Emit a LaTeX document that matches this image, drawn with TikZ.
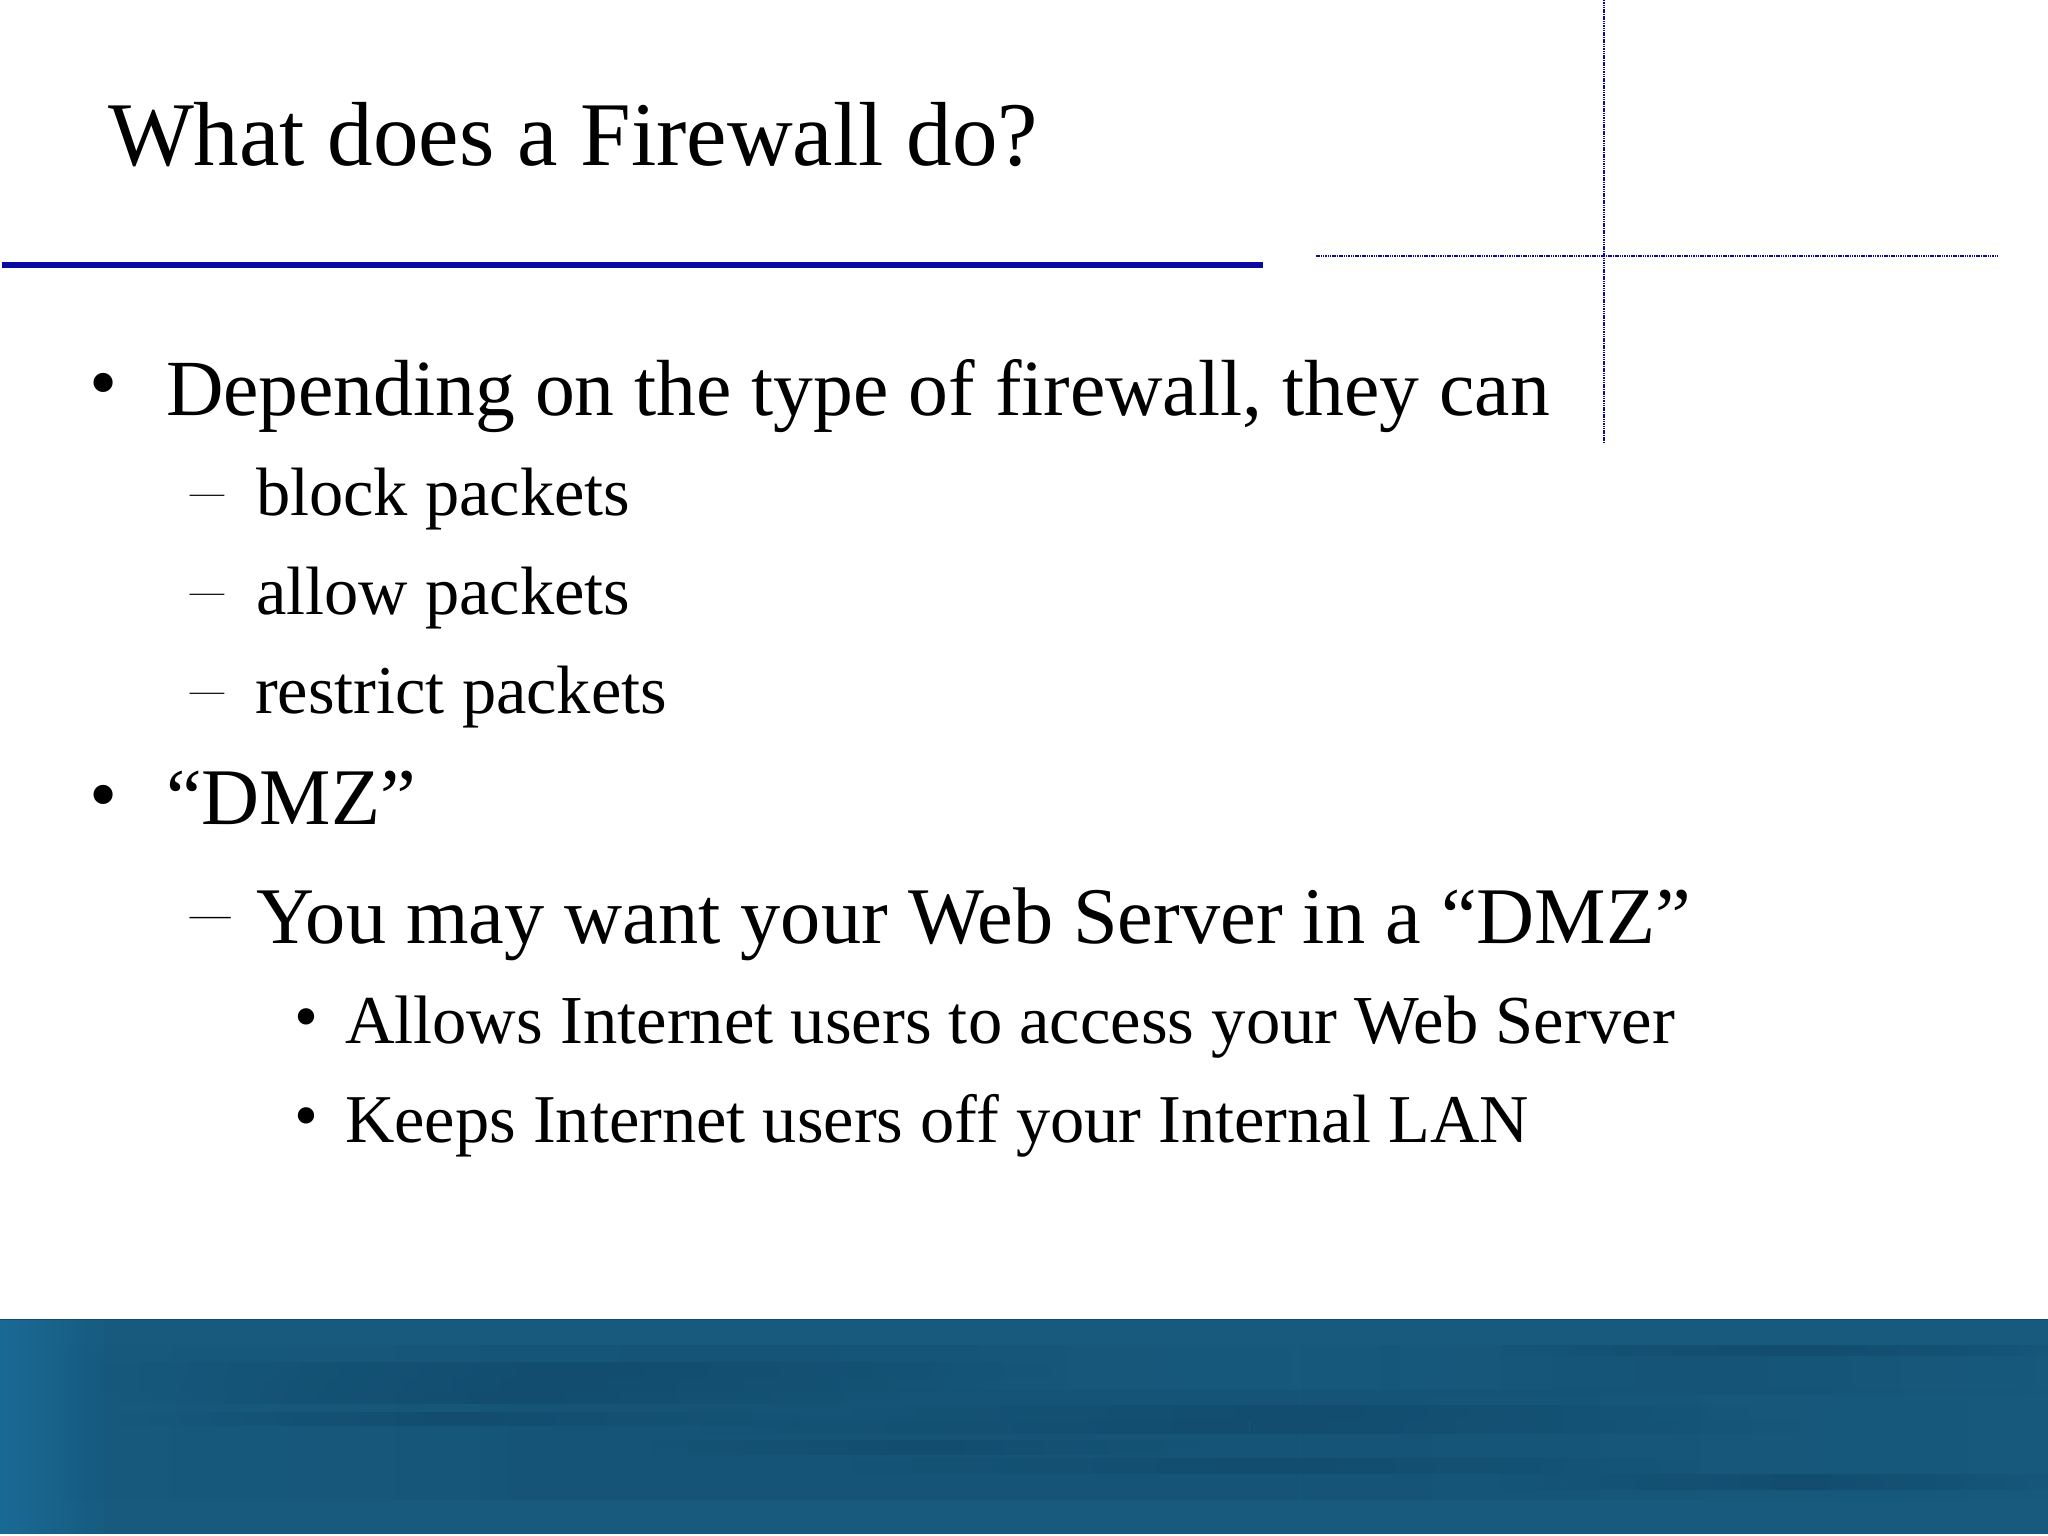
\documentclass[tikz,border=0pt]{standalone}
\usepackage{fontspec}
\setmainfont{Liberation Serif}
\usetikzlibrary{fadings}
\definecolor{rulec}{HTML}{0A0AA0}
\definecolor{bandc}{HTML}{175A7E}
\definecolor{bandd}{HTML}{124D6F}
\definecolor{bandm}{HTML}{155476}
\definecolor{bandl}{HTML}{1A6A96}
\newcommand{\wisp}[5]{%
  \pgfmathsetmacro{\wmid}{(#1+#2)/2}
  \fill[#5,path fading=west] (#1,#3) rectangle (\wmid,#4);
  \fill[#5,path fading=east] (\wmid,#3) rectangle (#2,#4);
}
\tikzset{
  x=1pt,y=-1pt,
  txt/.style={anchor=base west,inner sep=0pt,outer sep=0pt,text=black},
  title/.style={txt,font=\fontsize{91}{91}\selectfont},
  lvla/.style={txt,font=\fontsize{80.3}{80.3}\selectfont},
  lvlb/.style={txt,font=\fontsize{68.4}{68.4}\selectfont},
  dasha/.style={txt,font=\fontfamily{lmr}\fontsize{88}{88}\selectfont},
  dashb/.style={txt,font=\fontfamily{lmr}\fontsize{74}{74}\selectfont},
  heavy/.style={draw=rulec,line width=6pt},
  thinrule/.style={draw=rulec,line width=2pt,dash pattern=on 1.5pt off .8pt}
}
\begin{document}
\begin{tikzpicture}
\useasboundingbox (0,0) rectangle (2048,1536);
\fill[white] (0,0) rectangle (2048,1536);
% band
\fill[bandc] (0,1319) rectangle (2048,1534);
\fill[bandl,path fading=east] (0,1319) rectangle (110,1534);
\wisp{60}{1400}{1345}{1500}{bandm}
\wisp{500}{2100}{1390}{1500}{bandm}
\wisp{1300}{2100}{1345}{1395}{bandm}
\wisp{100}{1050}{1362}{1378}{bandd}
\wisp{100}{1000}{1378}{1392}{bandd}
\wisp{120}{900}{1392}{1404}{bandd}
\wisp{120}{800}{1412}{1426}{bandd}
\wisp{850}{1750}{1405}{1420}{bandd}
\wisp{700}{1800}{1420}{1434}{bandd}
\wisp{650}{1200}{1440}{1455}{bandd}
\wisp{850}{1700}{1458}{1474}{bandd}
\wisp{1500}{2100}{1474}{1490}{bandd}
\wisp{1500}{2100}{1345}{1356}{bandd}
\draw[bandd,line width=1.5pt] (0,1319.5) -- (2048,1319.5);
% rules
\coordinate (hl) at (2,264.5);
\coordinate (hr) at (1263,264.5);
\draw[heavy] (hl) -- (hr);
\coordinate (tl) at (1316,256);
\coordinate (tr) at (1998,256);
\draw[thinrule] (tl) -- (tr);
\coordinate (vt) at (1604,0);
\coordinate (vb) at (1604,443);
\draw[thinrule] (vt) -- (vb);
% text
\node[title] (t0) at (108,165) {What does a Firewall do?};
\node[lvla] (b1) at (89.3,409.3) {•};
\node[lvla] (t1) at (166,415) {\fontsize{79.6}{79.6}\selectfont Depending on the type of firewall, they can};
\node[dashb] (d1) at (190,515) {–};
\node[lvlb] (t2) at (256,515) {block packets};
\node[dashb] (d2) at (190,614) {–};
\node[lvlb] (t3) at (256,614) {allow packets};
\node[dashb] (d3) at (190,713) {–};
\node[lvlb] (t4) at (255,713) {restrict packets};
\node[lvla] (b2) at (89.3,821.3) {•};
\node[lvla] (t5) at (166,824) {“DMZ”};
\node[dasha] (d4) at (190,941.5) {–};
\node[lvla] (t6) at (256,943) {You may want your Web Server in a “DMZ”};
\node[lvlb] (b3) at (294,1039) {•};
\node[lvlb] (t7) at (345,1043) {\fontsize{68.6}{68.6}\selectfont Allows Internet users to access your Web Server};
\node[lvlb] (b4) at (294,1138) {•};
\node[lvlb] (t8) at (345,1142) {Keeps Internet users off your Internal LAN};
\end{tikzpicture}
\end{document}
